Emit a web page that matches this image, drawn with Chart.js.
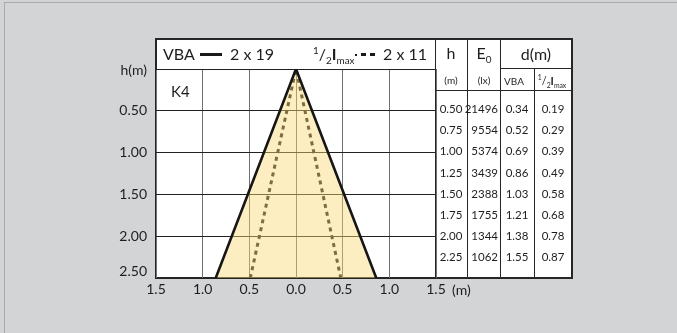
<!DOCTYPE html>
<html>
<head>
<meta charset="utf-8">
<script src="https://cdn.jsdelivr.net/npm/chart.js@4.4.1/dist/chart.umd.min.js"></script>
<style>
	html, body { margin: 0; padding: 0; }
	body { width: 677px; height: 333px; background: #d3d4d6; position: relative; overflow: hidden; font-family: Lato, "Open Sans", sans-serif; color: #1e1e1e; }
	.frame { position: absolute; left: 4px; top: 2px; width: 700px; height: 400px; border-top: 1px solid #a9aaac; border-left: 1px solid #a9aaac; }
	.panel { position: absolute; left: 155px; top: 38px; width: 418px; height: 241px; box-sizing: border-box; border: 2px solid #262626; background: #fff; }
	canvas { position: absolute; left: 0; top: 0; }
	.t { position: absolute; white-space: nowrap; line-height: 16px; height: 16px; }
	.c { transform: translateX(-50%); }
	.r { transform: translateX(-100%); }
	.vl { position: absolute; width: 1px; background: #262626; }
	.hl { position: absolute; height: 1px; background: #262626; }
	.sw { position: absolute; background: #1a1a1a; }
	sub, sup { font-size: 0.62em; line-height: 0; }
	.big { font-size: 16px; }
	.small { font-size: 10px; }
	.data { font-size: 11.5px; }
</style>
</head>
<body>
<div class="frame"></div>
<div class="panel"></div>
<canvas id="cone" width="677" height="333"></canvas>
<div id="overlay"></div>
<script>
// table values (h in m, E0 in lx, diameters in m)
const heights = [0.50, 0.75, 1.00, 1.25, 1.50, 1.75, 2.00, 2.25];
const illuminance = [21496, 9554, 5374, 3439, 2388, 1755, 1344, 1062];
const diamVBA = [0.34, 0.52, 0.69, 0.86, 1.03, 1.21, 1.38, 1.55];
const diamHalf = [0.19, 0.29, 0.39, 0.49, 0.58, 0.68, 0.78, 0.87];

// cone outlines
const vbaX = [-0.86, 0, 0.86];
const vbaH = [2.5, 0, 2.5];
const halfX = [-0.49, 0, 0.48];
const halfH = [2.5, 0, 2.5];

const xTicks = [-1.5, -1.0, -0.5, 0, 0.5, 1.0, 1.5];
const yTicks = [0, 0.5, 1.0, 1.5, 2.0, 2.5];

const ink = "#1e1e1e";

const axisEnds = {
	id: "axisEnds",
	afterDraw(chart) {
		const { ctx, scales } = chart;
		ctx.save();
		ctx.font = "14px Lato";
		ctx.fillStyle = ink;
		ctx.textBaseline = "middle";
		ctx.textAlign = "right";
		ctx.fillText("h(m)", 147, scales.y.getPixelForValue(0) + 1);
		ctx.fillText("2.50", 147, scales.y.getPixelForValue(2.5) - 7);
		ctx.textAlign = "left";
		ctx.fillText("(m)", scales.x.getPixelForValue(1.5) + 16, 290);
		ctx.restore();
	}
};

function toPoints(xs, hs) {
	return xs.map((x, i) => ({ x, y: hs[i] }));
}

new Chart(document.getElementById("cone"), {
	type: "line",
	data: {
		datasets: [
			{
				label: "VBA",
				data: toPoints(vbaX, vbaH),
				borderColor: "#161616",
				borderWidth: 2.6,
				backgroundColor: "rgba(250, 218, 120, 0.45)",
				fill: { value: 2.5 },
				pointRadius: 0,
				tension: 0
			},
			{
				label: "1/2 Imax",
				data: toPoints(halfX, halfH),
				borderColor: "#161616",
				borderWidth: 3,
				borderDash: [4, 4],
				fill: false,
				pointRadius: 0,
				tension: 0
			}
		]
	},
	options: {
		responsive: false,
		animation: false,
		devicePixelRatio: 1,
		layout: { padding: { left: 0, top: 69, right: 241, bottom: 0 } },
		plugins: { legend: { display: false }, tooltip: { enabled: false } },
		scales: {
			x: {
				type: "linear",
				min: -1.5,
				max: 1.5,
				afterBuildTicks: (s) => { s.ticks = xTicks.map((value) => ({ value })); },
				afterFit: (s) => { s.height = 55; },
				ticks: {
					color: ink,
					font: { size: 14, family: "Lato" },
					padding: 3,
					maxRotation: 0,
					callback: (v) => Math.abs(v).toFixed(1)
				},
				grid: { color: "#707070", lineWidth: 1, drawTicks: false },
				border: { display: false }
			},
			y: {
				type: "linear",
				reverse: true,
				min: 0,
				max: 2.5,
				afterBuildTicks: (s) => { s.ticks = yTicks.map((value) => ({ value })); },
				afterFit: (s) => { s.width = 156; },
				ticks: {
					color: ink,
					font: { size: 14, family: "Lato" },
					padding: 9,
					callback: (v) => (v === 0 || v === 2.5 ? "" : v.toFixed(2))
				},
				grid: { color: "#222", lineWidth: 1, drawTicks: false },
				border: { display: false }
			}
		}
	},
	plugins: [axisEnds]
});

// header legend, K4 tag and the data table
const overlay = document.getElementById("overlay");
function add(cls, x, y, html, style) {
	const el = document.createElement("div");
	el.className = cls;
	el.style.left = x + "px";
	el.style.top = y + "px";
	if (style) el.style.cssText += style;
	el.innerHTML = html;
	overlay.appendChild(el);
	return el;
}
const halfImax = "<sup>1</sup>/<sub>2</sub><b>I</b><sub>max</sub>";

add("t big", 163, 46, "VBA");
add("sw", 200, 53, "", "width:22px;height:3px;");
add("t big", 230, 46, "2 x 19");
add("t big", 313, 46, halfImax);
add("sw", 355, 54, "", "width:2px;height:2px;");
add("sw", 361, 53, "", "width:5px;height:3px;");
add("sw", 370, 53, "", "width:5px;height:3px;");
add("t big", 383, 46, "2 x 11");
add("t", 171, 83, "K4", "font-size:15px;");

// table rules
add("vl", 435, 39, "", "height:239px;");
add("vl", 467, 39, "", "height:239px;");
add("vl", 500, 39, "", "height:239px;");
add("vl", 534, 69, "", "height:209px;");
add("hl", 500, 68, "", "width:72px;");
add("hl", 436, 90, "", "width:136px;");

add("t c", 451, 45, "h", "font-size:16px;");
add("t c", 484, 45, "E<sub>0</sub>", "font-size:16px;");
add("t c", 536, 46, "d(m)", "font-size:16px;");
add("t c small", 451, 72, "(m)");
add("t c small", 484, 72, "(lx)");
add("t c small", 514, 73, "VBA");
add("t c small", 552, 73, halfImax, "font-size:11px;");

heights.forEach((h, i) => {
	const y = 101 + i * 21.2;
	add("t c data", 451, y, h.toFixed(2));
	add("t r data", 498, y, String(illuminance[i]));
	add("t c data", 517, y, diamVBA[i].toFixed(2));
	add("t c data", 553, y, diamHalf[i].toFixed(2));
});
</script>
</body>
</html>
